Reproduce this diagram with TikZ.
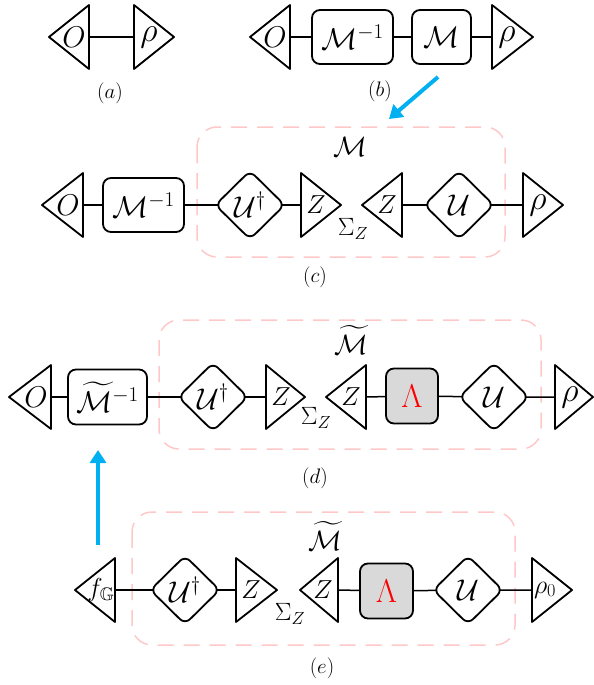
\RequirePackage{fix-cm}
\documentclass[tikz,border=0pt]{standalone}
\usepackage{amssymb}
\usetikzlibrary{shapes.geometric,arrows.meta}
\pgfdeclarelayer{boxes}
\pgfdeclarelayer{lines}
\pgfsetlayers{boxes,lines,main}
\definecolor{pinkd}{RGB}{255,200,200}
\definecolor{arrowblue}{RGB}{0,176,240}
\definecolor{lamgray}{RGB}{217,217,217}
\tikzset{
  shp/.style={draw=black, line width=1.8pt, line join=round},
  tri/.style={shp, fill=white},
  boxn/.style={shp, fill=white, rounded corners=8pt, inner sep=0pt, minimum height=54pt, font=\fontsize{30}{36}\selectfont},
  lamn/.style={boxn, fill=lamgray, minimum height=55pt, text=red, font=\fontsize{33}{38}\selectfont},
  dia/.style={shp, fill=white, diamond, rounded corners=7pt, inner sep=0pt, minimum width=70pt, minimum height=69pt, font=\fontsize{30}{36}\selectfont},
  conn/.style={line width=1.5pt},
  grp/.style={draw=pinkd, line width=1.5pt, dash pattern=on 16pt off 10pt, rounded corners=20pt},
  bigtxt/.style={inner sep=0pt, font=\fontsize{30}{36}\selectfont},
  rhotxt/.style={inner sep=0pt, font=\fontsize{34}{40}\selectfont},
  smalltxt/.style={inner sep=0pt, font=\fontsize{26}{30}\selectfont},
  ztxt/.style={inner sep=0pt, font=\fontsize{26}{30}\selectfont},
  sumlbl/.style={inner sep=0pt, font=\fontsize{25}{30}\selectfont},
  grplbl/.style={inner sep=0pt, font=\fontsize{28}{32}\selectfont},
  caplbl/.style={inner sep=0pt, font=\fontsize{21}{25}\selectfont},
  flow/.style={draw=arrowblue, line width=4pt, -{Triangle[length=13pt,width=16pt]}},
}
% left-pointing triangle: name, tip x, base x, y, text style, text offset, text
\newcommand\TriL[7]{%
  \draw[tri] (#3,#4-32) -- (#3,#4+32) -- (#2,#4) -- cycle;
  \coordinate (#1) at (#3,#4);
  \node[#5] (#1-t) at ({#3-#6},#4) {#7};
}
% right-pointing triangle: name, tip x, base x, y, text style, text offset, text
\newcommand\TriR[7]{%
  \draw[tri] (#3,#4-32) -- (#3,#4+32) -- (#2,#4) -- cycle;
  \coordinate (#1) at (#3,#4);
  \node[#5] (#1-t) at ({#3+#6},#4) {#7};
}
\begin{document}
\begin{tikzpicture}[x=1pt,y=-1pt]
\useasboundingbox (0,0) rectangle (594,685);

% ---------- (a)
\TriL{aO}{49}{89}{37}{bigtxt}{15}{$O$}
\TriR{ar}{174}{134}{37}{rhotxt}{15}{$\rho$}
\node[caplbl] (alab) at (110,93) {$(a)$};

% ---------- (b)
\TriL{bO}{250}{290}{37}{bigtxt}{15}{$O$}
\node[boxn, minimum width=81pt] (bMi) at (352.5,37) {$\mathcal{M}^{-1}$};
\node[boxn, minimum width=59pt] (bM) at (441.5,37) {$\mathcal{M}$};
\TriR{br}{533}{492}{37}{rhotxt}{15}{$\rho$}
\node[caplbl] (blab) at (380,91) {$(b)$};
\coordinate (f1s) at (438,77);
\coordinate (f1e) at (389,119);
\draw[flow] (f1s) -- (f1e);

% ---------- (c)
\begin{pgfonlayer}{boxes}
\draw[grp] (197,127) rectangle (505,257);
\end{pgfonlayer}
\node[grplbl] (cMl) at (350,147) {$\mathcal{M}$};
\TriL{cO}{42}{83}{205}{bigtxt}{15}{$O$}
\node[boxn, minimum width=81pt] (cMi) at (143.5,205) {$\mathcal{M}^{-1}$};
\node[dia] (cUd) at (250,205) {$\mathcal{U}^{\dagger}$};
\TriR{cZa}{341}{301}{205}{ztxt}{15}{$Z$}
\node[sumlbl] (cS) at (353,229) {$\Sigma_Z$};
\TriL{cZb}{362}{402}{205}{ztxt}{15}{$Z$}
\node[dia] (cU) at (459,205) {$\mathcal{U}$};
\TriR{cr}{563}{523}{205}{rhotxt}{15}{$\rho$}
\node[caplbl] (clab) at (315,277) {$(c)$};

% ---------- (d)
\begin{pgfonlayer}{boxes}
\draw[grp] (159,320) rectangle (541,449);
\end{pgfonlayer}
\node[grplbl] (dMl) at (351,340) {$\widetilde{\mathcal{M}}$};
\TriL{dO}{9}{51}{397}{bigtxt}{15}{$O$}
\node[boxn, minimum width=79pt, minimum height=55pt] (dMi) at (107.5,397) {$\widetilde{\mathcal{M}}^{-1}$};
\node[dia] (dUd) at (213,397) {$\mathcal{U}^{\dagger}$};
\TriR{dZa}{305}{266}{397}{ztxt}{15}{$Z$}
\node[sumlbl] (dS) at (316,418) {$\Sigma_Z$};
\TriL{dZb}{326}{366}{397}{ztxt}{15}{$Z$}
\node[lamn, minimum width=52pt] (dL) at (412,396) {$\Lambda$};
\node[dia] (dU) at (494,397) {$\mathcal{U}$};
\TriR{dr}{593}{555}{397}{rhotxt}{15}{$\rho$}
\node[caplbl] (dlab) at (315,478) {$(d)$};
\coordinate (f2s) at (98,545);
\coordinate (f2e) at (98,450);
\draw[flow] (f2s) -- (f2e);

% ---------- (e)
\begin{pgfonlayer}{boxes}
\draw[grp] (132,512) rectangle (515,645);
\end{pgfonlayer}
\node[grplbl] (eMl) at (325,536) {$\widetilde{\mathcal{M}}$};
\TriL{eF}{75}{115}{590}{smalltxt}{14}{$f_{\mathbb{G}}$}
\node[dia] (eUd) at (185,590) {$\mathcal{U}^{\dagger}$};
\TriR{eZa}{277}{236}{590}{ztxt}{15}{$Z$}
\node[sumlbl] (eS) at (290,614) {$\Sigma_Z$};
\TriL{eZb}{300}{338}{590}{ztxt}{15}{$Z$}
\node[lamn, minimum width=53pt] (eL) at (386.5,591) {$\Lambda$};
\node[dia] (eU) at (468,590) {$\mathcal{U}$};
\TriR{er}{572}{532}{590}{smalltxt}{13}{$\rho_0$}
\node[caplbl] (elab) at (322,668) {$(e)$};

% ---------- connectors
\begin{pgfonlayer}{lines}
\draw[conn] (aO) -- (ar);
\draw[conn] (bO) -- (bMi.center) -- (bM.center) -- (br);
\draw[conn] (cO) -- (cMi.center) -- (cUd.center) -- (cZa);
\draw[conn] (cZb) -- (cU.center) -- (cr);
\draw[conn] (dO) -- (dMi.center) -- (dUd.center) -- (dZa);
\draw[conn] (dZb) -- (dL.center) -- (dU.center) -- (dr);
\draw[conn] (eF) -- (eUd.center) -- (eZa);
\draw[conn] (eZb) -- (eL.center) -- (eU.center) -- (er);
\end{pgfonlayer}
\end{tikzpicture}
\end{document}
